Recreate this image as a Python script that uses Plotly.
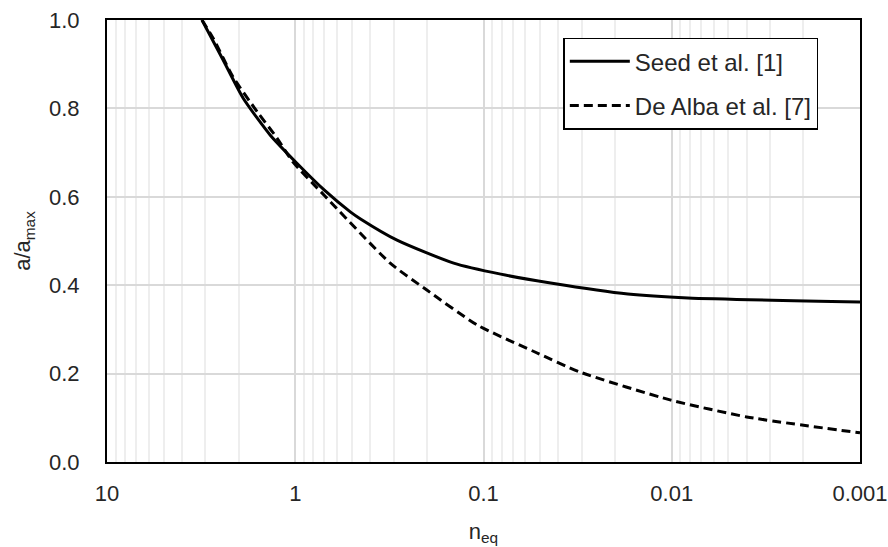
import plotly.graph_objects as go

# Seed et al. [1]
seed_n = [3.13, 2.42, 1.89, 1.36, 0.98, 0.70, 0.51, 0.45, 0.288, 0.144, 0.081, 0.044, 0.0171, 0.0082, 0.001]
seed_a = [1.00, 0.910, 0.823, 0.740, 0.676, 0.615, 0.566, 0.550, 0.502, 0.450, 0.425, 0.405, 0.380, 0.371, 0.362]

# De Alba et al. [7]
dealba_n = [3.13, 2.73, 2.14, 1.59, 1.25, 1.03, 0.70, 0.313, 0.20, 0.108, 0.054, 0.0305, 0.0101, 0.004, 0.001]
dealba_a = [1.00, 0.959, 0.871, 0.792, 0.733, 0.679, 0.603, 0.450, 0.389, 0.310, 0.250, 0.203, 0.140, 0.102, 0.066]

x_ticks = [10, 1, 0.1, 0.01, 0.001]
x_ticklabels = ["10", "1", "0.1", "0.01", "0.001"]

minor_vals = [m * d for d in [0.001, 0.01, 0.1, 1] for m in range(2, 10)]

FONT = "Liberation Sans, Arial, sans-serif"
TXT = "#262626"
FS = 22

fig = go.Figure()
fig.add_trace(go.Scatter(x=seed_n, y=seed_a, mode="lines", name="Seed et al. [1]",
                         line=dict(color="black", width=3, shape="spline", smoothing=0.6),
                         legendgroup="a"))
fig.add_trace(go.Scatter(x=dealba_n, y=dealba_a, mode="lines", name="De Alba et al. [7]",
                         line=dict(color="black", width=3, dash="9px,5px", shape="spline", smoothing=0.6),
                         legendgroup="b"))

fig.update_layout(
    width=888, height=547,
    margin=dict(l=107, r=28, t=20, b=85),
    paper_bgcolor="white", plot_bgcolor="white",
    font=dict(family=FONT, size=FS, color=TXT),
    legend=dict(x=0.606, y=0.96, xanchor="left", yanchor="top",
                bordercolor="black", borderwidth=1.5, bgcolor="white",
                font=dict(size=24, color=TXT), traceorder="grouped", tracegroupgap=10,
                itemwidth=60),
    xaxis=dict(type="log", range=[1, -3], tickvals=x_ticks, ticktext=x_ticklabels,
               showgrid=True, gridcolor="#d9d9d9", gridwidth=1.5,
               minor=dict(tickvals=minor_vals, showgrid=True, gridcolor="#eeeeee", gridwidth=1.5),
               showline=True, linecolor="black", linewidth=2, mirror=True,
               ticks="", ticklabelstandoff=11, ticklabeloverflow="allow", zeroline=False, automargin=False,
               title=dict(text="n<sub>eq</sub>", font=dict(size=FS), standoff=18)),
    yaxis=dict(range=[0, 1], dtick=0.2, tickformat=".1f",
               showgrid=True, gridcolor="#d9d9d9", gridwidth=1.5,
               showline=True, linecolor="black", linewidth=2, mirror=True,
               ticks="", ticklabelstandoff=21, ticklabeloverflow="allow", zeroline=False, automargin=False,
               title=dict(text="a/a<sub>max</sub>", font=dict(size=FS), standoff=12)),
)

fig.write_html("out.html", config={"displayModeBar": False},
               post_script="document.body.style.margin='0';document.body.style.overflow='hidden';")
